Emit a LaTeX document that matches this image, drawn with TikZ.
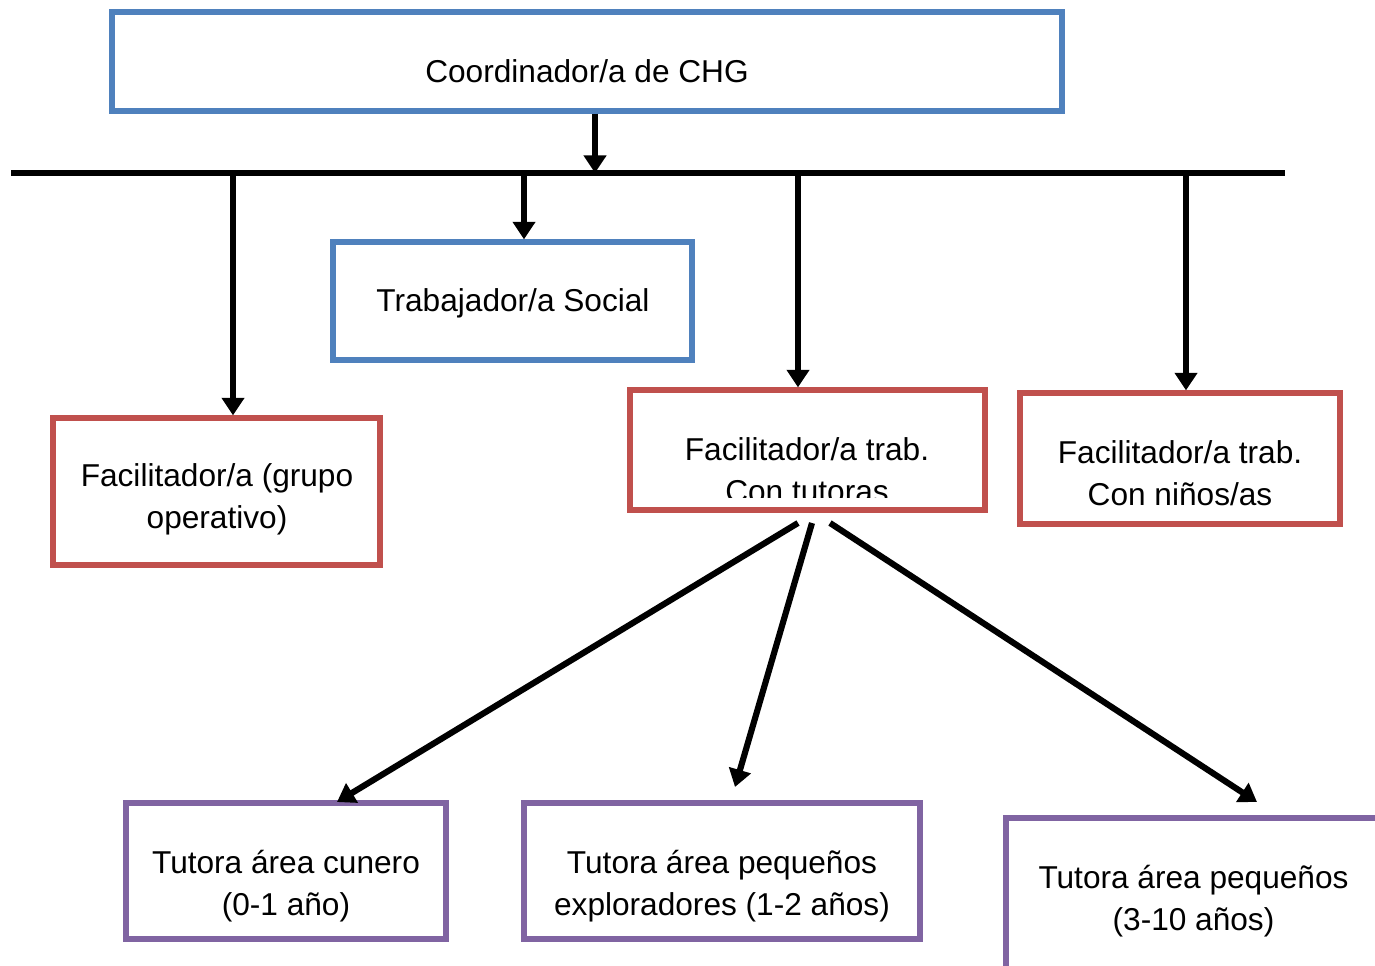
\documentclass[tikz,border=0pt]{standalone}
\usepackage{fontspec}
\setmainfont{Liberation Sans}
\usetikzlibrary{arrows.meta}
\definecolor{chgblue}{HTML}{4F81BD}
\definecolor{chgred}{HTML}{C0504D}
\definecolor{chgpurple}{HTML}{8064A2}

\begin{document}
\begin{tikzpicture}[x=0.02cm, y=-0.02cm,
  box/.style={draw, line width=3pt, inner sep=0pt},
  bluebox/.style={box, draw=chgblue},
  redbox/.style={box, draw=chgred},
  purplebox/.style={box, draw=chgpurple},
  lbl/.style={inner sep=0pt, align=center, font=\fontsize{18}{23.9}\selectfont},
  arr/.style={line width=3.5pt, -{Triangle[length=10pt, width=12.5pt]}}]
\clip (0,0) rectangle (1375,966);
\node[bluebox, minimum width=19cm, minimum height=1.98cm] (coord) at (587,61.5) {};
\node[bluebox, minimum width=7.18cm, minimum height=2.36cm] (trab) at (512.5,301) {};
\node[redbox, minimum width=6.54cm, minimum height=2.94cm] (facg) at (216.5,491.5) {};
\node[redbox, minimum width=7.1cm, minimum height=2.4cm] (factut) at (807.5,450) {};
\node[redbox, minimum width=6.4cm, minimum height=2.62cm] (facnin) at (1180,458.5) {};
\node[purplebox, minimum width=6.4cm, minimum height=2.72cm] (tcun) at (286,871) {};
\node[purplebox, minimum width=7.92cm, minimum height=2.72cm] (texp) at (722,871) {};
\node[purplebox, minimum width=7.6cm, minimum height=3.4cm] (tpeq) at (1196,903) {};

\node[lbl] (coordtxt) at (587,70.7) {Coordinador/a de CHG};
\node[lbl] (trabtxt) at (513,303.8) {Trabajador/a Social};
\node[lbl] (facgtxt) at (217,499.3) {Facilitador/a (grupo\\operativo)};
\begin{scope}
\clip (630,390) rectangle (985,497);
\node[lbl] (factuttxt) at (807,470) {Facilitador/a trab.\\Con tutoras};
\end{scope}
\node[lbl] (facnintxt) at (1180,472.7) {Facilitador/a trab.\\Con niños/as};
\node[lbl] (tcuntxt) at (286,885.8) {Tutora área cunero\\(0-1 año)};
\node[lbl] (texptxt) at (722,885.8) {Tutora área pequeños\\exploradores (1-2 años)};
\node[lbl] (tpeqtxt) at (1193.5,900.8) {Tutora área pequeños\\(3-10 años)};

\coordinate (barL) at (11,173);
\coordinate (barR) at (1285,173);
\coordinate (b0) at (595,173);
\coordinate (b1) at (233,173);
\coordinate (b2) at (524,173);
\coordinate (b3) at (798,173);
\coordinate (b4) at (1186,173);
\draw[line width=3.5pt] (barL) -- (barR);
\draw[arr] (b0 |- coord.south) -- (b0);
\draw[arr] (b1) -- (b1 |- facg.north);
\draw[arr] (b2) -- (b2 |- trab.north);
\draw[arr] (b3) -- (b3 |- factut.north);
\draw[arr] (b4) -- (b4 |- facnin.north);

\coordinate (d1) at (798,523);
\coordinate (d2) at (812,523);
\coordinate (d3) at (830,523);
\coordinate (e1) at (337,802);
\coordinate (e2) at (735,787);
\coordinate (e3) at (1257,802);
\draw[arr] (d1) -- (e1);
\draw[arr] (d2) -- (e2);
\draw[arr] (d3) -- (e3);
\end{tikzpicture}
\end{document}
